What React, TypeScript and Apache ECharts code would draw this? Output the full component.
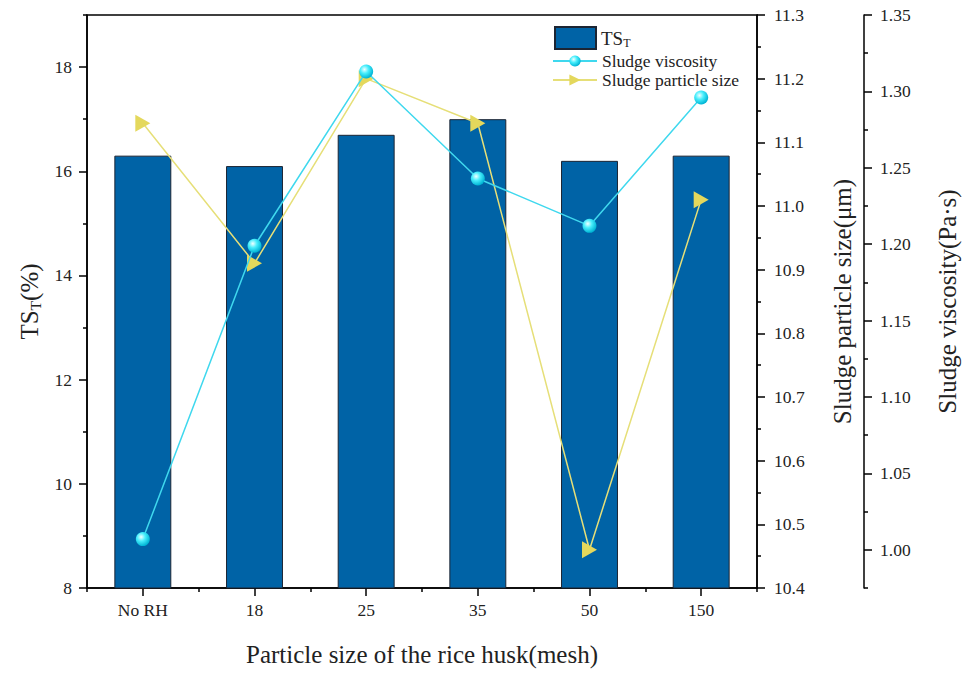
import React, { useEffect, useRef } from "react";
import * as echarts from "echarts";

const categories = ["No RH", "18", "25", "35", "50", "150"];
const tsValues = [16.3, 16.1, 16.7, 17.0, 16.2, 16.3];
const viscosityValues = [1.007, 1.199, 1.313, 1.243, 1.212, 1.296];
const particleSizeValues = [11.13, 10.91, 11.2, 11.13, 10.46, 11.01];

const tsMajorTicks = [8, 10, 12, 14, 16, 18];
const tsMinorTicks = [9, 11, 13, 15, 17, 19];
const sizeMajorTicks = [10.4, 10.5, 10.6, 10.7, 10.8, 10.9, 11.0, 11.1, 11.2, 11.3];
const sizeMinorTicks = [10.45, 10.55, 10.65, 10.75, 10.85, 10.95, 11.05, 11.15, 11.25];
const viscMajorTicks = [1.0, 1.05, 1.1, 1.15, 1.2, 1.25, 1.3, 1.35];
const viscMinorTicks = [0.975, 1.025, 1.075, 1.125, 1.175, 1.225, 1.275, 1.325];

const FONT = "Liberation Serif";
const TXT = "#222";

export default function App() {
  const ref = useRef<HTMLDivElement>(null);
  useEffect(() => {
    document.body.style.margin = "0";
    const chart = echarts.init(ref.current!, undefined, { renderer: "svg" });
    const axisLine = { show: true, lineStyle: { color: "#000", width: 1.5 } };
    const nameStyle = { fontFamily: FONT, fontSize: 25, color: TXT };
    const nameRich = { n: { fontFamily: FONT, fontSize: 25, color: TXT } };
    const VISC_OFFSET = 107;

    const minorAxis = (min: number, max: number, ticks: number[], position: string, offset = 0) => ({
      type: "value",
      min,
      max,
      position,
      offset,
      axisLine: { show: false },
      axisTick: { show: true, inside: false, length: 4, customValues: ticks, lineStyle: { color: "#000", width: 1.5 } },
      axisLabel: { show: false },
      splitLine: { show: false },
    });

    chart.setOption({
      animation: false,
      backgroundColor: "#fff",
      grid: { left: 87, right: 198, top: 15, bottom: 85, show: true, borderColor: "#000", borderWidth: 1.5, containLabel: false },
      legend: [
        {
          data: [{ name: "TS_T", icon: "rect" }],
          left: 549,
          top: 21,
          itemWidth: 41,
          itemHeight: 22,
          formatter: () => "{a|TS}{b|T}",
          textStyle: {
            rich: {
              a: { fontFamily: FONT, fontSize: 19, color: TXT },
              b: { fontFamily: FONT, fontSize: 12, color: TXT, verticalAlign: "bottom", padding: [9, 0, 0, 0] },
            },
          },
        },
        {
          data: ["Sludge viscosity", "Sludge particle size"],
          orient: "vertical",
          left: 547,
          top: 47,
          itemWidth: 44,
          itemHeight: 14,
          itemGap: 1,
          formatter: (n: string) => `{l|${n}}`,
          textStyle: {
            rich: { l: { fontFamily: FONT, fontSize: 17.5, color: TXT, lineHeight: 18 } },
          },
        },
      ],
      xAxis: [
        {
          type: "category",
          data: categories,
          position: "bottom",
          axisLine,
          axisTick: { show: true, alignWithLabel: true, length: 8, lineStyle: { color: "#000", width: 1.5 } },
          axisLabel: { show: false },
          name: "{n|Particle size of the rice husk(mesh)}",
          nameLocation: "middle",
          nameGap: 54,
          nameTextStyle: { ...nameStyle, rich: nameRich },
        },
        {
          type: "category",
          data: categories,
          position: "bottom",
          axisLine: { show: false },
          axisTick: { show: true, alignWithLabel: false, length: 4, lineStyle: { color: "#000", width: 1.5 } },
          axisLabel: { show: false },
        },
      ],
      yAxis: [
        {
          type: "value",
          min: 8,
          max: 19,
          position: "left",
          axisLine,
          axisTick: { show: true, length: 8, customValues: tsMajorTicks, lineStyle: { color: "#000", width: 1.5 } },
          axisLabel: { show: false },
          splitLine: { show: false },
          name: "{a|TS}{b|T}{a|(%)}",
          nameLocation: "middle",
          nameRotate: 90,
          nameGap: 44,
          nameTextStyle: {
            ...nameStyle,
            rich: {
              a: { fontFamily: FONT, fontSize: 25, color: TXT },
              b: { fontFamily: FONT, fontSize: 15.5, color: TXT, verticalAlign: "bottom", padding: [12, 0, 0, 0] },
            },
          },
        },
        minorAxis(8, 19, tsMinorTicks, "left"),
        {
          type: "value",
          min: 10.4,
          max: 11.3,
          position: "right",
          axisLine,
          axisTick: { show: true, length: 8, customValues: sizeMajorTicks, lineStyle: { color: "#000", width: 1.5 } },
          axisLabel: { show: false },
          splitLine: { show: false },
          name: "{n|Sludge particle size(μm)}",
          nameLocation: "middle",
          nameRotate: 90,
          nameGap: 73,
          nameTextStyle: { ...nameStyle, rich: nameRich },
        },
        minorAxis(10.4, 11.3, sizeMinorTicks, "right"),
        {
          type: "value",
          min: 0.975,
          max: 1.35,
          position: "right",
          offset: VISC_OFFSET,
          axisLine,
          axisTick: { show: true, length: 8, customValues: viscMajorTicks, lineStyle: { color: "#000", width: 1.5 } },
          axisLabel: { show: false },
          splitLine: { show: false },
          name: "{n|Sludge viscosity(Pa·s)}",
          nameLocation: "middle",
          nameRotate: 90,
          nameGap: 71,
          nameTextStyle: { ...nameStyle, rich: nameRich },
        },
        minorAxis(0.975, 1.35, viscMinorTicks, "right", VISC_OFFSET),
      ],
      series: [
        {
          name: "TS_T",
          type: "bar",
          xAxisIndex: 0,
          yAxisIndex: 0,
          data: tsValues,
          barWidth: "51%",
          itemStyle: { color: "#0063a6", borderColor: "#1c2533", borderWidth: 1 },
        },
        {
          name: "Sludge viscosity",
          type: "line",
          xAxisIndex: 0,
          yAxisIndex: 4,
          data: viscosityValues,
          symbol: "circle",
          symbolSize: 14,
          z: 4,
          lineStyle: { color: "#3fd8ee", width: 1.5 },
          itemStyle: {
            color: new echarts.graphic.RadialGradient(0.38, 0.35, 0.65, [
              { offset: 0, color: "#f0ffff" },
              { offset: 0.45, color: "#48eefc" },
              { offset: 1, color: "#00b4d4" },
            ]),
            borderWidth: 0,
          },
        },
        {
          name: "Sludge particle size",
          type: "line",
          xAxisIndex: 0,
          yAxisIndex: 2,
          data: particleSizeValues,
          symbol: "path://M0,0L16,9L0,18Z",
          symbolSize: [15, 17],
          z: 3,
          lineStyle: { color: "#e6df78", width: 1.5 },
          itemStyle: { color: "#e4d85c" },
        },
      ],
    });

    // Tick labels positioned through the chart's own axis scales
    const px = (finder: any, v: any) => chart.convertToPixel(finder, v) as unknown as number;
    const c0 = px({ xAxisIndex: 0 }, 0);
    const c1 = px({ xAxisIndex: 0 }, 1);
    const band = c1 - c0;
    const leftX = c0 - band / 2;
    const rightX = px({ xAxisIndex: 0 }, categories.length - 1) + band / 2;
    const bottomY = px({ yAxisIndex: 0 }, 8);
    const txt = (x: number, y: number, text: string, align: string, vAlign: string) => ({
      type: "text",
      x,
      y,
      silent: true,
      style: {
        text: `{l|${text}}`,
        font: `17.5px "${FONT}"`,
        fill: TXT,
        align,
        verticalAlign: vAlign,
        rich: { l: { fontFamily: FONT, fontSize: 17.5, fill: TXT, color: TXT } },
      },
    });
    const elements: any[] = [];
    categories.forEach((c, i) => elements.push(txt(px({ xAxisIndex: 0 }, i), bottomY + 13, c, "center", "top")));
    tsMajorTicks.forEach((v) => elements.push(txt(leftX - 15, px({ yAxisIndex: 0 }, v), String(v), "right", "middle")));
    sizeMajorTicks.forEach((v) => elements.push(txt(rightX + 17, px({ yAxisIndex: 2 }, v), v.toFixed(1), "left", "middle")));
    viscMajorTicks.forEach((v) =>
      elements.push(txt(rightX + VISC_OFFSET + 16, px({ yAxisIndex: 4 }, v), v.toFixed(2), "left", "middle"))
    );
    chart.setOption({ graphic: { elements } });

    return () => chart.dispose();
  }, []);
  return <div ref={ref} style={{ width: 968, height: 673 }} />;
}
